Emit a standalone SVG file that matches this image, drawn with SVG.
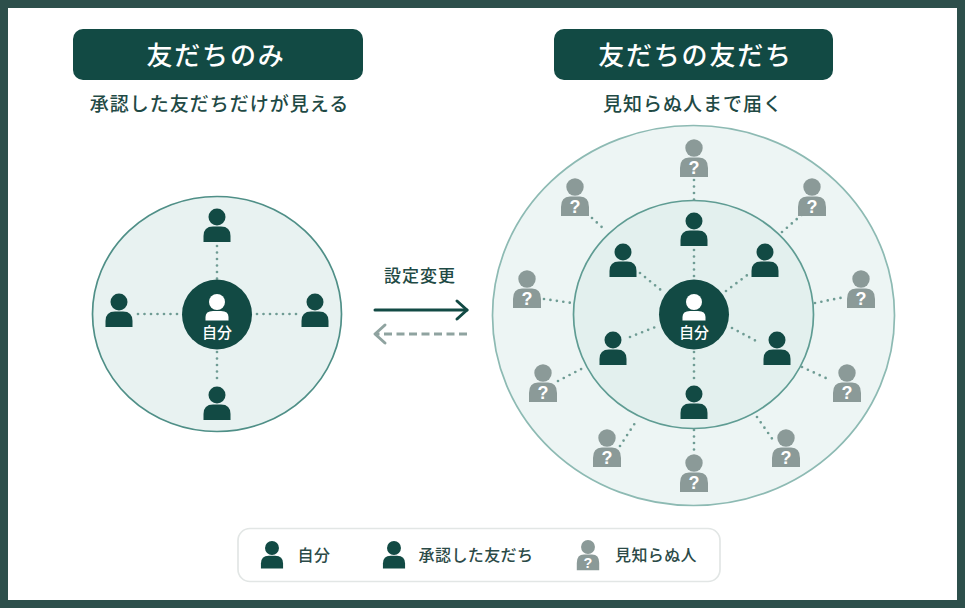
<svg xmlns="http://www.w3.org/2000/svg" width="965" height="608" viewBox="0 0 965 608">
<style>
text{font-family:"Noto Sans CJK JP","Noto Sans",sans-serif;text-anchor:middle}
.title{font-size:26px;font-weight:500;letter-spacing:1.8px;fill:#fff}
.sub{font-size:19px;font-weight:500;letter-spacing:1px;fill:#1f4a45}
.lbl{font-size:16px;font-weight:500;letter-spacing:.4px;fill:#2b4a47}
.self{font-size:15px;font-weight:500;fill:#fff}
.q{font-size:18px;font-weight:700;fill:#fff;font-family:"Liberation Sans",sans-serif}
.dark{fill:#124a44}.grey{fill:#8b9a98}
.dot{fill:none;stroke:#6f9c94;stroke-width:2.7;stroke-linecap:round;stroke-dasharray:0 6.5}
</style>
<defs>
<g id="friend"><circle cx="0" cy="0" r="8.5"/><path d="M-13.5 25V19Q-13.5 9.5-4 9.5H4Q13.5 9.5 13.5 19V25Z"/></g>
<g id="stranger"><circle cx="0" cy="0" r="8.7"/><path d="M-14 29V20Q-14 9.5-5 9.5H5Q14 9.5 14 20V29Z"/><text class="q" x="0" y="26">?</text></g>
<g id="selfIcon"><circle cx="0" cy="-13" r="8" fill="#fff"/><path d="M-11.5 5.500V2Q-11.5-4-4-4H4Q11.500-4 11.500 2V5.500Z" fill="#fff"/></g>
<marker id="headSolid" markerUnits="userSpaceOnUse" markerWidth="16" markerHeight="24" refX="13" refY="12" orient="auto"><path d="M3 3L13 12L3 21" fill="none" stroke="#124a44" stroke-width="3" stroke-linecap="round" stroke-linejoin="round"/></marker>
<marker id="headDash" markerUnits="userSpaceOnUse" markerWidth="16" markerHeight="24" refX="13" refY="12" orient="auto"><path d="M3 3L13 12L3 21" fill="none" stroke="#8fa3a0" stroke-width="3" stroke-linecap="round" stroke-linejoin="round"/></marker>
</defs>
<rect width="965" height="608" fill="#2d4f4b"/>
<rect x="8" y="8" width="949" height="592" fill="#fff"/>
<g id="header-left"><rect x="73" y="29" width="290" height="51" rx="10" fill="#124a44"/><text class="title" x="216" y="65">友だちのみ</text><text class="sub" x="219.500" y="111">承認した友だちだけが見える</text></g>
<g id="header-right"><rect x="554" y="29" width="279" height="51" rx="10" fill="#124a44"/><text class="title" x="695.500" y="65">友だちの友だち</text><text class="sub" x="693" y="111">見知らぬ人まで届く</text></g>
<g id="zones">
<ellipse cx="217" cy="314" rx="124.5" ry="117.5" fill="#e8f2f1" stroke="#4f8f87" stroke-width="1.700"/>
<ellipse cx="693.5" cy="315.5" rx="201" ry="190" fill="#edf5f4" stroke="#8dbab3" stroke-width="1.700"/>
<ellipse cx="693.5" cy="314.5" rx="120" ry="114" fill="#e3f0ee" stroke="#5f9c93" stroke-width="1.700"/>
</g>
<g id="connectors">
<path class="dot" d="M217 246V280M217 352V384M138 314H178M257 314H297"/>
<path class="dot" d="M694 250V280M694 352V384M640 273L662 291M726 291L750 273M630 337L658 326M732 328L760 343"/>
<path class="dot" d="M694 180V200M592 218L605 230M782 232L805 212M544 299L572 303M815 303L845 297M558 381L585 367M802 367L830 380M620 446L637 420M757 417L773 440M694 430V455"/>
<path d="M375 310H467" fill="none" stroke="#124a44" stroke-width="3" stroke-linecap="round" marker-end="url(#headSolid)"/>
<path d="M467 334H375" fill="none" stroke="#8fa3a0" stroke-width="3" stroke-dasharray="8 4.5" marker-end="url(#headDash)"/>
</g>
<text class="sub" x="420" y="282" style="font-size:17px;letter-spacing:1px">設定変更</text>
<g id="self-left"><circle cx="217" cy="314.5" r="35" fill="#124a44"/><use href="#selfIcon" x="217" y="315"/><text class="self" x="217" y="338">自分</text></g>
<g id="self-right"><circle cx="694" cy="314.5" r="35" fill="#124a44"/><use href="#selfIcon" x="694" y="315"/><text class="self" x="694" y="338">自分</text></g>
<g id="friends-left" class="dark"><use id="fl1" href="#friend" x="217" y="217"/><use id="fl2" href="#friend" x="119" y="302"/><use id="fl3" href="#friend" x="315" y="302"/><use id="fl4" href="#friend" x="217" y="395"/></g>
<g id="friends-right" class="dark"><use id="fr1" href="#friend" x="694" y="221"/><use id="fr2" href="#friend" x="623" y="252"/><use id="fr3" href="#friend" x="765" y="252"/><use id="fr4" href="#friend" x="613" y="340"/><use id="fr5" href="#friend" x="777" y="340"/><use id="fr6" href="#friend" x="694" y="394"/></g>
<g id="strangers" class="grey"><use id="s1" href="#stranger" x="694" y="148"/><use id="s2" href="#stranger" x="575" y="187"/><use id="s3" href="#stranger" x="812" y="187"/><use id="s4" href="#stranger" x="527" y="279"/><use id="s5" href="#stranger" x="861" y="279"/><use id="s6" href="#stranger" x="543" y="373"/><use id="s7" href="#stranger" x="847" y="373"/><use id="s8" href="#stranger" x="607" y="438"/><use id="s9" href="#stranger" x="786" y="438"/><use id="s10" href="#stranger" x="694" y="463"/></g>
<g id="legend">
<rect x="238" y="528.5" width="482" height="53" rx="12" fill="#fff" stroke="#e2e6e5" stroke-width="1.700"/>
<g class="dark" transform="translate(272 548) scale(.82)"><use href="#friend"/></g><text class="lbl" x="314" y="561">自分</text>
<g class="dark" transform="translate(394 548) scale(.82)"><use href="#friend"/></g><text class="lbl" x="476" y="561">承認した友だち</text>
<g class="grey" transform="translate(588 547) scale(.8)"><use href="#stranger"/></g><text class="lbl" x="656" y="561">見知らぬ人</text>
</g>
</svg>
